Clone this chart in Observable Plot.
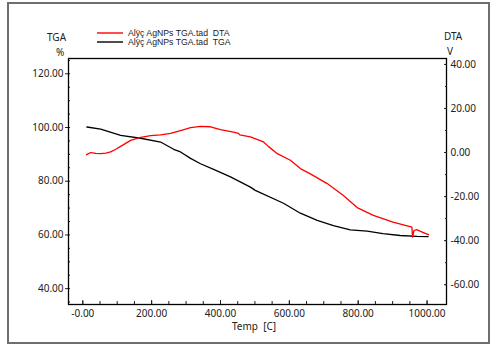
<!DOCTYPE html>
<html><head><meta charset="utf-8">
<script src="https://cdn.jsdelivr.net/npm/d3@7"></script>
<script src="https://cdn.jsdelivr.net/npm/@observablehq/plot@0.6"></script>
<style>
body{margin:0;background:#fff;}
#wrap{position:relative;width:492px;height:347px;font-family:"Noto Sans",sans-serif;overflow:hidden;}
#wrap svg.plot, #wrap > svg{position:absolute;left:0;top:0;}
.border{position:absolute;left:7px;top:2px;width:479px;height:338px;border:2px solid #6e6e6e;}
.t{position:absolute;font-size:10px;line-height:10px;color:#222;white-space:pre;}
.leg{position:absolute;font-family:"Liberation Sans",Arial,sans-serif;font-size:8.7px;line-height:9px;color:#222;white-space:pre;}
</style></head><body><div id="wrap"></div>
<script>
// ---- data ----
const tgaTemp = [12, 52, 110, 168, 226, 264, 284, 313, 342, 380, 429, 487, 501, 583, 632, 681, 728, 777, 826, 872, 922, 971, 1003];
const tgaValue = [100.2, 99.4, 97.1, 96.0, 94.6, 91.9, 90.9, 88.5, 86.5, 84.4, 81.6, 77.8, 76.6, 71.8, 68.1, 65.4, 63.5, 61.9, 61.4, 60.5, 59.8, 59.5, 59.4];
const dtaTemp = [11, 23, 38, 52, 67, 81, 96, 110, 139, 168, 197, 226, 255, 284, 313, 342, 371, 400, 438, 452, 456, 487, 525, 539, 565, 603, 632, 661, 710, 757, 797, 844, 901, 956, 958, 962, 970, 986, 1004];
const dtaValue = [-0.95, 0, -0.4, -0.5, -0.3, 0.3, 1.5, 2.8, 5.5, 6.9, 7.7, 8.0, 8.7, 10.0, 11.3, 11.9, 11.7, 10.4, 9.3, 8.7, 8.0, 7.1, 4.8, 2.8, -0.5, -3.5, -7.3, -9.7, -14.1, -19.5, -25.0, -28.5, -31.6, -33.9, -38.4, -35.4, -35.0, -36.1, -37.3];

const tempTicks = [0, 200, 400, 600, 800, 1000];
const tempTickLabels = ["-0.00", "200.00", "400.00", "600.00", "800.00", "1000.00"];
const tempMinor = d3.range(0, 1001, 50);
const tgaTicks = [40, 60, 80, 100, 120];
const tgaTickLabels = ["40.00", "60.00", "80.00", "100.00", "120.00"];
const tgaMinor = d3.range(35, 126, 5);
const dtaTicks = [-60, -40, -20, 0, 20, 40];
const dtaTickLabels = ["-60.00", "-40.00", "-20.00", "0.00", "20.00", "40.00"];
const dtaMinor = d3.range(-60, 41, 10);

const seriesNames = ["Alÿç AgNPs TGA.tad  DTA", "Alÿç AgNPs TGA.tad  TGA"];
const seriesColors = ["#ff0000", "#000000"];

// ---- build ----
const tgaRows = tgaTemp.map((t, i) => ({t, v: tgaValue[i]}));
const dtaRows = dtaTemp.map((t, i) => ({t, v: dtaValue[i]}));
const xLab = new Map(tempTicks.map((d, i) => [d, tempTickLabels[i]]));
const tgaLab = new Map(tgaTicks.map((d, i) => [d, tgaTickLabels[i]]));
const dtaLab = new Map(dtaTicks.map((d, i) => [d, dtaTickLabels[i]]));

const common = {
  width: 492, height: 347,
  marginLeft: 68, marginRight: 46, marginTop: 58, marginBottom: 43,
  style: {background: "transparent", fontFamily: "'Noto Sans', sans-serif", fontSize: "10px", color: "#222", overflow: "visible"}
};

const p1 = Plot.plot({
  ...common,
  x: {domain: [-41.5, 1056.5]},
  y: {domain: [34.1, 125.7]},
  marks: [
    Plot.axisY(tgaTicks, {anchor: "left", tickSize: 3, tickPadding: 2, tickFormat: d => tgaLab.get(d), label: null}),
    Plot.axisY(tgaMinor, {anchor: "left", tickSize: 2, dx: 2, text: null, label: null}),
    Plot.axisX(tempTicks, {anchor: "bottom", tickSize: 0, tickPadding: 5, tickFormat: d => xLab.get(d), label: null}),
    Plot.axisX(tempTicks, {anchor: "bottom", tickSize: 4, dy: -4, text: null, label: null}),
    Plot.axisX(tempMinor, {anchor: "bottom", tickSize: 3, dy: -3, text: null, label: null}),
    Plot.line(tgaRows, {x: "t", y: "v", stroke: seriesColors[1], strokeWidth: 1.3}),
    Plot.frame({stroke: "#000", strokeWidth: 1.3})
  ]
});

const p2 = Plot.plot({
  ...common,
  x: {domain: [-41.5, 1056.5], axis: null},
  y: {domain: [-69.0, 42.7]},
  marks: [
    Plot.axisY(dtaTicks, {anchor: "right", tickSize: 0, tickPadding: 4, tickFormat: d => dtaLab.get(d), label: null}),
    Plot.axisY(dtaTicks, {anchor: "right", tickSize: 3, dx: -3, text: null, label: null}),
    Plot.axisY(dtaMinor, {anchor: "right", tickSize: 2, dx: -2, text: null, label: null}),
    Plot.line(dtaRows, {x: "t", y: "v", stroke: seriesColors[0], strokeWidth: 1.3})
  ]
});

const wrap = document.getElementById("wrap");
wrap.innerHTML = `
<div class="border"></div>
<div class="t" style="left:47px;top:32px;">TGA</div>
<div class="t" style="left:56px;top:47px;">%</div>
<div class="t" style="left:444px;top:31px;">DTA</div>
<div class="t" style="left:447px;top:46px;">V</div>
<div class="t" style="left:232px;top:321px;">Temp  [C]</div>
<svg width="30" height="20" style="position:absolute;left:95px;top:28px;overflow:visible">
  <line x1="2" x2="28" y1="5" y2="5" stroke="${seriesColors[0]}" stroke-width="1.4"/>
  <line x1="2" x2="28" y1="14" y2="14" stroke="${seriesColors[1]}" stroke-width="1.4"/>
</svg>
<div class="leg" style="left:128px;top:29px;">${seriesNames[0]}</div>
<div class="leg" style="left:128px;top:38px;">${seriesNames[1]}</div>
`;
wrap.appendChild(p1);
wrap.appendChild(p2);
</script>
</body></html>
